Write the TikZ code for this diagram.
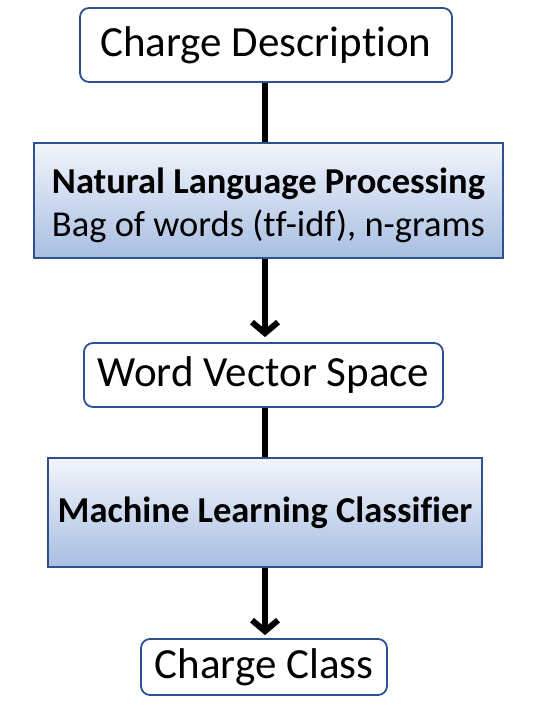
\documentclass[tikz,border=0pt]{standalone}
\usepackage{fontspec}
\setmainfont[Ligatures=NoCommon]{Carlito}
\usepackage{tikz}
\usetikzlibrary{arrows.meta,calc}
\definecolor{edgeblue}{RGB}{47,82,143}
\definecolor{shadetop}{RGB}{242,245,251}
\definecolor{shadebot}{RGB}{168,190,226}

\begin{document}
\begin{tikzpicture}[x=1pt,y=-1pt,
    plainbox/.style={draw=edgeblue, line width=1.8pt, rounded corners=9pt, fill=white,
        inner sep=0pt, font=\fontsize{43}{50}\selectfont},
    shadebox/.style={draw=edgeblue, line width=2pt, top color=shadetop, bottom color=shadebot,
        inner sep=0pt, align=center, font=\fontsize{36.5}{43}\selectfont},
    flow/.style={line width=6pt},
    flowhead/.style={line width=6pt, -{Straight Barb[length=11pt,width=26pt]}}]
    \useasboundingbox (0,0) rectangle (548,708);

    % Pipeline boxes
    \node[plainbox, minimum width=372pt, minimum height=74pt] (desc) at (266,45) {Charge Description};
    \node[shadebox, minimum width=469pt, minimum height=115pt] (nlp) at (268.5,200.5)
        {\rule{0pt}{36pt}\textbf{Natural Language Processing}\\Bag of words (tf-idf), n-grams};
    \node[plainbox, minimum width=359pt, minimum height=64pt] (wvs) at (263.5,375) {Word Vector Space};
    \node[shadebox, minimum width=434pt, minimum height=109pt] (mlc) at (265,512.5)
        {\textbf{Machine Learning Classifier}};
    \node[plainbox, minimum width=246pt, minimum height=56pt] (cls) at (264,667) {Charge Class};

    % Connectors
    \coordinate (spine) at (265,0);
    \draw[flow] (spine |- desc.south) -- (spine |- nlp.north);
    \draw[flowhead] (spine |- nlp.south) -- ($(spine |- wvs.north)+(0,-5)$);
    \draw[flow] (spine |- wvs.south) -- (spine |- mlc.north);
    \draw[flowhead] (spine |- mlc.south) -- ($(spine |- cls.north)+(0,-3)$);
\end{tikzpicture}
\end{document}
